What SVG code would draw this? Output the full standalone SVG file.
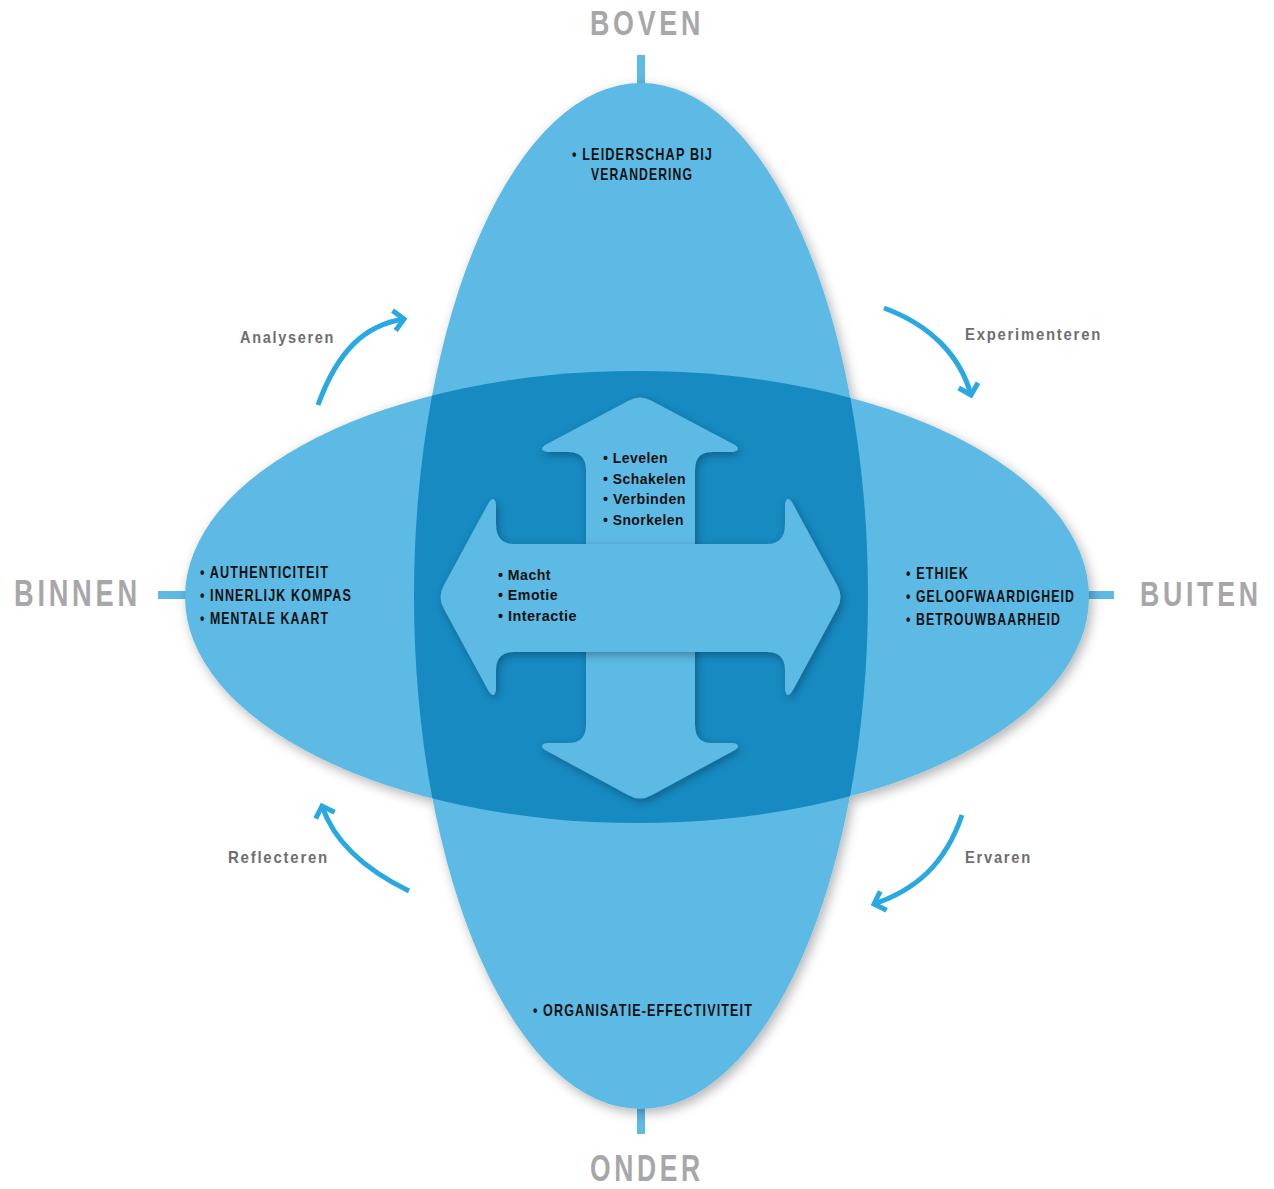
<svg xmlns="http://www.w3.org/2000/svg" width="1274" height="1189" viewBox="0 0 1274 1189">
  <style>
    .light { fill: #5cbae5; }
    .dark { fill: #168ac1; }
    .axis { font-family: "Liberation Sans", Arial, sans-serif; font-weight: bold; font-size: 36px; letter-spacing: 5px; fill: #a7a7a9; }
    .item { font-family: "Liberation Sans", Arial, sans-serif; font-weight: bold; font-size: 17px; letter-spacing: 1.5px; fill: #111111; }
    .inner { font-family: "Liberation Sans", Arial, sans-serif; font-weight: bold; font-size: 15px; letter-spacing: 0.5px; fill: #111111; }
    .proc { font-family: "Liberation Sans", Arial, sans-serif; font-weight: bold; font-size: 17px; letter-spacing: 2px; fill: #6d6e71; }
    .conn { fill: none; stroke: #29a9e1; stroke-width: 5; }
  </style>
  <defs>
    <filter id="shadow" x="-10%" y="-10%" width="125%" height="125%">
      <feDropShadow dx="3" dy="4" stdDeviation="6" flood-color="#000000" flood-opacity="0.3"/>
    </filter>
    <filter id="shadow2" x="-10%" y="-10%" width="125%" height="125%">
      <feDropShadow dx="2" dy="3" stdDeviation="4" flood-color="#000000" flood-opacity="0.3"/>
    </filter>
    <clipPath id="vclip">
      <ellipse cx="641" cy="596" rx="227" ry="513"/>
    </clipPath>
    <marker id="chev" markerUnits="userSpaceOnUse" viewBox="-14 -14 20 28" markerWidth="20" markerHeight="28" refX="0" refY="0" orient="auto">
      <path d="M-10,-10 L0,0 L-10,10" fill="none" stroke="#29a9e1" stroke-width="5"/>
    </marker>
  </defs>

  <g id="ticks">
    <rect class="light" x="637" y="55" width="8" height="30"/>
    <rect class="light" x="637" y="1106" width="8" height="28"/>
    <rect class="light" x="158" y="591" width="30" height="8"/>
    <rect class="light" x="1087" y="591" width="27" height="8"/>
  </g>

  <g id="ellipses" filter="url(#shadow)">
    <ellipse id="horizontal-ellipse" class="light" cx="637" cy="597" rx="452" ry="226"/>
    <ellipse id="vertical-ellipse" class="light" cx="641" cy="596" rx="227" ry="513"/>
  </g>
  <g id="intersection" clip-path="url(#vclip)">
    <ellipse class="dark" cx="637" cy="597" rx="452" ry="226"/>
  </g>

  <g id="cross-arrow">
    <path id="vertical-arrow" class="light" filter="url(#shadow2)" d="M628,401 Q640,394 652,401 L735,445 Q742,450 733,452 L712,452 Q695,452 695,470 L695,725 Q695,743 712,743 L733,743 Q742,745 735,750 L652,795 Q640,802 628,795 L545,750 Q538,745 547,743 L568,743 Q586,743 586,725 L586,470 Q586,452 568,452 L547,452 Q538,450 545,445 Z"/>
    <path id="horizontal-arrow" class="light" filter="url(#shadow2)" d="M444,585 Q437,597 444,609 L488,690 Q494,700 496,690 L496,670 Q496,652 514,652 L767,652 Q785,652 785,670 L785,690 Q787,700 793,690 L837,609 Q844,597 837,585 L793,504 Q787,494 785,504 L785,524 Q785,544 767,544 L514,544 Q496,544 496,524 L496,504 Q494,494 488,504 Z"/>
  </g>

  <g id="label-boven"><text class="axis" transform="translate(590,35) scale(0.745,1)">BOVEN</text></g>
  <g id="label-binnen"><text class="axis" transform="translate(14,606) scale(0.755,1)">BINNEN</text></g>
  <g id="label-buiten"><text class="axis" transform="translate(1140,606) scale(0.742,1)">BUITEN</text></g>
  <g id="label-onder"><text class="axis" transform="translate(590,1181) scale(0.735,1)">ONDER</text></g>

  <g id="items-boven">
    <text class="item" x="572" y="160" textLength="141" lengthAdjust="spacingAndGlyphs">• LEIDERSCHAP BIJ</text>
    <text class="item" x="591" y="180" textLength="102" lengthAdjust="spacingAndGlyphs">VERANDERING</text>
  </g>
  <g id="items-binnen">
    <text class="item" x="200" y="578" textLength="129" lengthAdjust="spacingAndGlyphs">• AUTHENTICITEIT</text>
    <text class="item" x="200" y="601" textLength="152" lengthAdjust="spacingAndGlyphs">• INNERLIJK KOMPAS</text>
    <text class="item" x="200" y="624" textLength="129" lengthAdjust="spacingAndGlyphs">• MENTALE KAART</text>
  </g>
  <g id="items-buiten">
    <text class="item" x="906" y="579" textLength="63" lengthAdjust="spacingAndGlyphs">• ETHIEK</text>
    <text class="item" x="906" y="602" textLength="169" lengthAdjust="spacingAndGlyphs">• GELOOFWAARDIGHEID</text>
    <text class="item" x="906" y="625" textLength="155" lengthAdjust="spacingAndGlyphs">• BETROUWBAARHEID</text>
  </g>
  <g id="items-onder">
    <text class="item" x="533" y="1016" textLength="220" lengthAdjust="spacingAndGlyphs">• ORGANISATIE-EFFECTIVITEIT</text>
  </g>

  <g id="items-vertical-arrow">
    <text class="inner" x="603" y="463" textLength="65" lengthAdjust="spacingAndGlyphs">• Levelen</text>
    <text class="inner" x="603" y="484" textLength="83" lengthAdjust="spacingAndGlyphs">• Schakelen</text>
    <text class="inner" x="603" y="504" textLength="83" lengthAdjust="spacingAndGlyphs">• Verbinden</text>
    <text class="inner" x="603" y="525" textLength="81" lengthAdjust="spacingAndGlyphs">• Snorkelen</text>
  </g>
  <g id="items-horizontal-arrow">
    <text class="inner" x="498" y="580" textLength="53" lengthAdjust="spacingAndGlyphs">• Macht</text>
    <text class="inner" x="498" y="600" textLength="60" lengthAdjust="spacingAndGlyphs">• Emotie</text>
    <text class="inner" x="498" y="621" textLength="79" lengthAdjust="spacingAndGlyphs">• Interactie</text>
  </g>

  <g id="label-analyseren"><text class="proc" x="240" y="343" textLength="95" lengthAdjust="spacingAndGlyphs">Analyseren</text></g>
  <g id="label-experimenteren"><text class="proc" x="965" y="340" textLength="137" lengthAdjust="spacingAndGlyphs">Experimenteren</text></g>
  <g id="label-reflecteren"><text class="proc" x="228" y="863" textLength="101" lengthAdjust="spacingAndGlyphs">Reflecteren</text></g>
  <g id="label-ervaren"><text class="proc" x="965" y="863" textLength="67" lengthAdjust="spacingAndGlyphs">Ervaren</text></g>

  <g id="connectors">
    <path class="conn" marker-end="url(#chev)" d="M318,405 C338,350 365,325 404,319"/>
    <path class="conn" marker-end="url(#chev)" d="M884,308 C930,325 960,355 971,395"/>
    <path class="conn" marker-end="url(#chev)" d="M409,891 C370,872 335,845 322,806"/>
    <path class="conn" marker-end="url(#chev)" d="M962,815 C945,865 915,890 874,904"/>
  </g>
</svg>
